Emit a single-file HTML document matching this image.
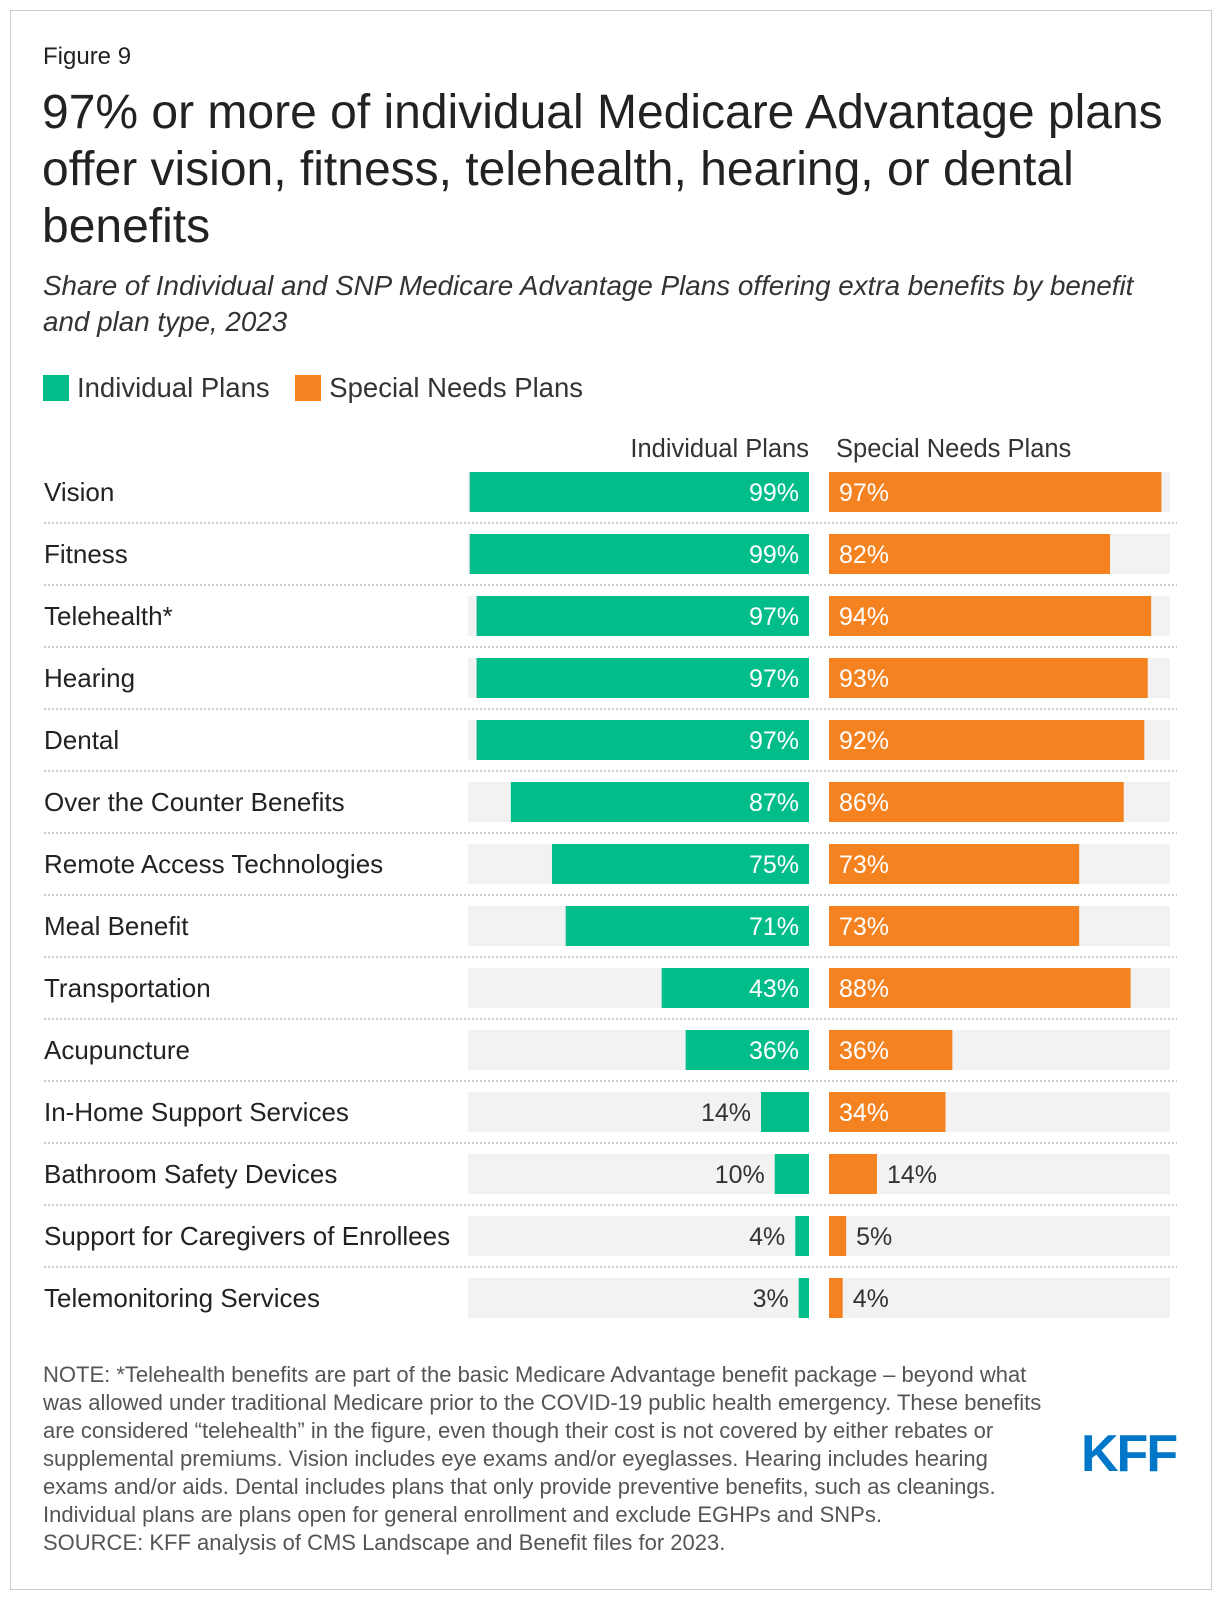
<!DOCTYPE html>
<html><head><meta charset="utf-8"><style>
body{margin:0;background:#fff;font-family:"Liberation Sans",sans-serif;}
#frame{position:absolute;left:10px;top:10px;width:1200px;height:1578px;border:1px solid #ccc;}
.t{position:absolute;color:#222;white-space:nowrap;}
</style></head><body>
<div id="frame"></div>
<div class="t" style="left:43px;top:43px;font-size:24px;">Figure 9</div>
<div class="t" style="left:42px;top:84px;font-size:48px;line-height:57px;">97% or more of individual Medicare Advantage plans<br>offer vision, fitness, telehealth, hearing, or dental<br>benefits</div>
<div class="t" style="left:43px;top:268px;font-size:27.8px;line-height:36px;font-style:italic;color:#333;">Share of Individual and SNP Medicare Advantage Plans offering extra benefits by benefit<br>and plan type, 2023</div>
<div style="position:absolute;left:43px;top:372px;font-size:27.5px;color:#333;">
<span><span style="display:inline-block;width:26px;height:26px;background:#00bd8a;vertical-align:-4px;margin-right:8px"></span>Individual Plans</span>
<span style="margin-left:18px"><span style="display:inline-block;width:26px;height:26px;background:#f58220;vertical-align:-4px;margin-right:8px"></span>Special Needs Plans</span>
</div>
<svg id="chart" width="1220" height="1600" style="position:absolute;left:0;top:0"></svg>
<div class="t" style="left:43px;top:1361px;font-size:22px;line-height:28px;color:#555;">NOTE: *Telehealth benefits are part of the basic Medicare Advantage benefit package – beyond what<br>was allowed under traditional Medicare prior to the COVID-19 public health emergency. These benefits<br>are considered “telehealth” in the figure, even though their cost is not covered by either rebates or<br>supplemental premiums. Vision includes eye exams and/or eyeglasses. Hearing includes hearing<br>exams and/or aids. Dental includes plans that only provide preventive benefits, such as cleanings.<br>Individual plans are plans open for general enrollment and exclude EGHPs and SNPs.<br>SOURCE: KFF analysis of CMS Landscape and Benefit files for 2023.</div>
<div class="t" style="left:1081px;top:1424px;font-size:52px;font-weight:bold;color:#0077c8;letter-spacing:-2px;">KFF</div>
<script>
const categories=["Vision","Fitness","Telehealth*","Hearing","Dental","Over the Counter Benefits","Remote Access Technologies","Meal Benefit","Transportation","Acupuncture","In-Home Support Services","Bathroom Safety Devices","Support for Caregivers of Enrollees","Telemonitoring Services"];
const individual=[99,99,97,97,97,87,75,71,43,36,14,10,4,3];
const snp=[97,82,94,93,92,86,73,73,88,36,34,14,5,4];
const svg=document.getElementById('chart');
const NS="http://www.w3.org/2000/svg";
const indRight=809, snpLeft=829, W=341;
const xs=v=>v/99.5*W;
const rowY=i=>492+i*62;
function mk(t,a){const e=document.createElementNS(NS,t);for(const k in a)e.setAttribute(k,a[k]);svg.appendChild(e);return e;}
let h=mk('text',{x:indRight,y:457,'text-anchor':'end','font-size':25.5,fill:'#333','font-family':'Liberation Sans'});h.textContent="Individual Plans";


h=mk('text',{x:snpLeft+7,y:457,'font-size':25.5,fill:'#333','font-family':'Liberation Sans'});h.textContent="Special Needs Plans";


categories.forEach((c,i)=>{
 const cy=rowY(i);
 let l=mk('text',{x:44,y:cy+9,'font-size':26,fill:'#222','font-family':'Liberation Sans'});l.textContent=c;
 
 
 let t=mk('rect',{x:indRight-W,y:cy-20,width:W,height:40,fill:'#f2f2f2'});
 
 
 t=mk('rect',{x:snpLeft,y:cy-20,width:W,height:40,fill:'#f2f2f2'});
 
 
 const wi=Math.min(W,xs(individual[i]));
 let b=mk('rect',{x:indRight-wi,y:cy-20,width:wi,height:40,fill:'#00bd8a'});
 
 
 const inside=wi>60;
 let v=mk('text',{x:inside?indRight-10:indRight-wi-10,y:cy+9,'text-anchor':'end','font-size':25,fill:inside?'#fff':'#333','font-family':'Liberation Sans'});v.textContent=individual[i]+'%';
 
 
 const ws=Math.min(W,xs(snp[i]));
 b=mk('rect',{x:snpLeft,y:cy-20,width:ws,height:40,fill:'#f58220'});
 
 
 const ins=ws>60;
 v=mk('text',{x:ins?snpLeft+10:snpLeft+ws+10,y:cy+9,'font-size':25,fill:ins?'#fff':'#333','font-family':'Liberation Sans'});v.textContent=snp[i]+'%';
 
 
 if(i<categories.length-1){
  let d=mk('line',{x1:44,x2:1177,y1:cy+31,y2:cy+31,stroke:'#bbb','stroke-width':1.5,'stroke-dasharray':'2,2'});
  
  
 }
});
</script>
</body></html>
